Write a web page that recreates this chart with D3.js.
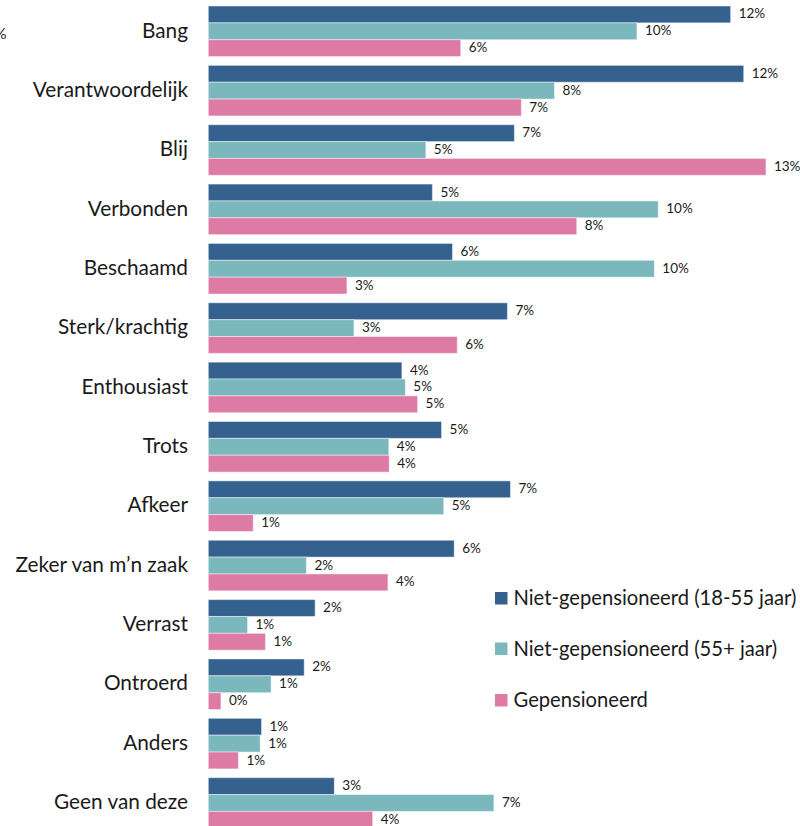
<!DOCTYPE html>
<html>
<head>
<meta charset="utf-8">
<script src="https://cdn.jsdelivr.net/npm/d3@7/dist/d3.min.js"></script>
<style>
  html, body { margin: 0; padding: 0; background: #fff; }
  svg { display: block; font-family: Lato, "Open Sans", sans-serif; }
</style>
</head>
<body>
<svg id="chart" width="800" height="826"></svg>
<script>
// ---- data ----
const categories = [
  "Bang", "Verantwoordelijk", "Blij", "Verbonden", "Beschaamd", "Sterk/krachtig",
  "Enthousiast", "Trots", "Afkeer", "Zeker van m\u2019n zaak", "Verrast", "Ontroerd",
  "Anders", "Geen van deze"
];
const seriesNames = [
  "Niet-gepensioneerd (18-55 jaar)",
  "Niet-gepensioneerd (55+ jaar)",
  "Gepensioneerd"
];
const seriesColors = ["#35618F", "#7BB8BE", "#DE7BA5"];
// values in percent
const niet1855 = [11.98, 12.28, 7.02, 5.14, 5.60, 6.86, 4.44, 5.35, 6.93, 5.64, 2.45, 2.20, 1.22, 2.89];
const niet55   = [9.83, 7.94, 4.99, 10.32, 10.23, 3.34, 4.52, 4.14, 5.40, 2.25, 0.90, 1.44, 1.19, 6.55];
const gepens   = [5.79, 7.18, 12.79, 8.45, 3.18, 5.71, 4.80, 4.15, 1.03, 4.12, 1.31, 0.29, 0.69, 3.77];
const seriesValues = [niet1855, niet55, gepens];

// ---- layout ----
const svg = d3.select("#chart");
const x0 = 208.3, pxPerPct = 43.6;
const x = d3.scaleLinear().domain([0, 14]).range([x0, x0 + 14 * pxPerPct]);

const pInner = 0.148;
const step = 59.36;
const yTop = 6 - step * pInner / 2;
const y = d3.scaleBand().domain(categories)
  .range([yTop, yTop + categories.length * step])
  .paddingInner(pInner).paddingOuter(pInner / 2);
const ys = d3.scaleBand().domain(d3.range(seriesNames.length)).range([0, y.bandwidth()]);

const rows = categories.map((c, i) => ({
  cat: c,
  vals: seriesValues.map((s, j) => ({ j, v: s[i] }))
}));

const g = svg.append("g");
const grp = g.selectAll("g.grp").data(rows).join("g")
  .attr("class", "grp")
  .attr("transform", d => `translate(0,${y(d.cat)})`);

grp.selectAll("rect").data(d => d.vals).join("rect")
  .attr("x", x(0))
  .attr("y", d => ys(d.j))
  .attr("width", d => x(d.v) - x(0))
  .attr("height", ys.bandwidth())
  .attr("fill", d => seriesColors[d.j])
  .attr("stroke", "#ffffff")
  .attr("stroke-opacity", 0.45)
  .attr("stroke-width", 1);

grp.selectAll("text.val").data(d => d.vals).join("text")
  .attr("class", "val")
  .attr("x", d => x(d.v) + 8)
  .attr("y", d => ys(d.j) + ys.bandwidth() / 2)
  .attr("dy", "0.3em")
  .attr("font-size", 13.5)
  .attr("fill", "#1a1a1a")
  .text(d => Math.round(d.v) + "%");

// category axis labels
const yAxis = d3.axisLeft(y).tickSize(0).tickPadding(0);
const ax = svg.append("g").attr("transform", `translate(${188},0)`).call(yAxis);
ax.select(".domain").remove();
ax.selectAll("text")
  .attr("font-size", 20.8)
  .attr("font-family", "Lato, 'Open Sans', sans-serif")
  .attr("fill", "#1a1a1a")
  .attr("dy", "0.3em");

// clipped stray label at left edge (partly outside the picture, as in the reference)
svg.append("text")
  .attr("x", 6.5).attr("y", 39)
  .attr("text-anchor", "end")
  .attr("font-size", 15)
  .attr("fill", "#1a1a1a")
  .text("%");

// legend
const legendY = [598, 648.5, 700];
const lg = svg.append("g").selectAll("g").data(seriesNames).join("g")
  .attr("transform", (d, i) => `translate(495,${legendY[i]})`);
lg.append("rect")
  .attr("x", 0).attr("y", -6).attr("width", 12.5).attr("height", 12.5)
  .attr("fill", (d, i) => seriesColors[i]);
lg.append("text")
  .attr("x", 18.5).attr("y", 0).attr("dy", "0.35em")
  .attr("font-size", 20.2)
  .attr("fill", "#1a1a1a")
  .text(d => d);
</script>
</body>
</html>
